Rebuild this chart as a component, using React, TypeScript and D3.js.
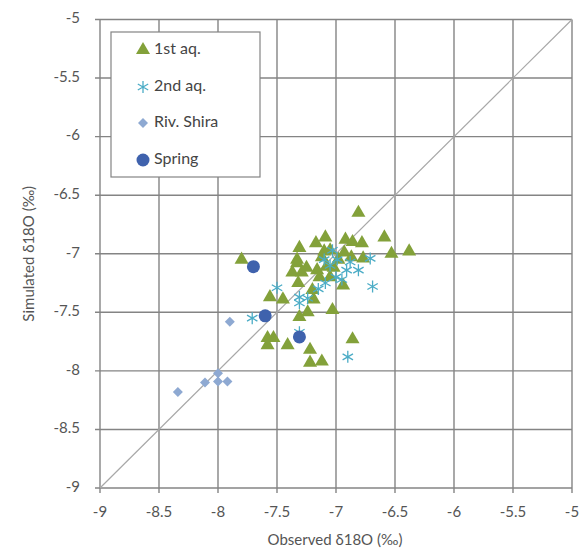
import { useEffect, useRef } from "react"
import * as d3 from "d3"

type Pt = [number, number]

// observed, simulated δ18O (‰)
const firstAq: Pt[] = [
  [-6.81, -6.65], [-7.8, -7.05], [-7.31, -6.95], [-7.17, -6.91], [-7.09, -6.86],
  [-6.92, -6.88], [-6.86, -6.9], [-6.78, -6.91], [-7.33, -7.05], [-7.25, -7.12],
  [-7.37, -7.16], [-7.32, -7.25], [-7.12, -7.03], [-7.08, -7.11], [-7.14, -7.2],
  [-7.05, -7.2], [-7.2, -7.31], [-7.19, -7.39], [-7.56, -7.37], [-7.45, -7.39],
  [-7.03, -7.48], [-7.24, -7.5], [-7.31, -7.54], [-6.59, -6.86], [-6.53, -7.0],
  [-6.38, -6.98], [-6.77, -7.04], [-6.94, -7.27], [-7.58, -7.72], [-7.53, -7.72],
  [-7.58, -7.78], [-7.41, -7.78], [-7.22, -7.82], [-7.22, -7.93], [-7.12, -7.92],
  [-6.86, -7.73], [-7.33, -7.08], [-7.29, -7.16], [-7.16, -7.14], [-7.05, -6.97],
  [-6.98, -7.05], [-7.02, -7.12], [-7.1, -6.98], [-6.93, -6.99], [-6.87, -7.03],
]

const secondAq: Pt[] = [
  [-7.03, -6.97], [-6.99, -7.05], [-6.88, -7.07], [-6.91, -7.14], [-6.81, -7.14],
  [-6.71, -7.04], [-6.69, -7.28], [-7.09, -7.25], [-7.31, -7.42], [-7.5, -7.29],
  [-7.71, -7.55], [-7.31, -7.67], [-7.31, -7.37], [-7.24, -7.38], [-6.9, -7.88],
  [-7.05, -7.1], [-7.0, -7.2], [-7.1, -7.05], [-6.95, -7.22], [-7.15, -7.3],
]

const rivShira: Pt[] = [
  [-7.9, -7.58], [-8.34, -8.18], [-8.11, -8.1], [-8.0, -8.02], [-8.0, -8.09], [-7.92, -8.09],
]

const spring: Pt[] = [
  [-7.7, -7.11], [-7.6, -7.53], [-7.31, -7.71],
]

const ticks = [-9, -8.5, -8, -7.5, -7, -6.5, -6, -5.5, -5]
const legendNames = ["1st aq.", "2nd aq.", "Riv. Shira", "Spring"]

const GREEN = "#83a13a"
const AQUA = "#4bacc6"
const STEEL = "#8ea9d2"
const NAVY = "#3f62ad"
const GRID = "#848484"
const FONT = "Lato, 'Open Sans', sans-serif"

export default function App() {
  const ref = useRef<SVGSVGElement>(null)

  useEffect(() => {
    const svg = d3.select(ref.current!)
    svg.selectAll("*").remove()

    const x = d3.scaleLinear().domain([-9, -5]).range([100, 572])
    const y = d3.scaleLinear().domain([-9, -5]).range([488, 19.5])

    const g = svg.append("g")

    // grid
    g.selectAll("line.vx").data(ticks).join("line")
      .attr("x1", (d) => x(d)).attr("x2", (d) => x(d))
      .attr("y1", y(-5)).attr("y2", y(-9) + 5)
      .attr("stroke", GRID).attr("stroke-width", 1.4)
    g.selectAll("line.hy").data(ticks).join("line")
      .attr("y1", (d) => y(d)).attr("y2", (d) => y(d))
      .attr("x1", x(-9) - 5).attr("x2", x(-5))
      .attr("stroke", GRID).attr("stroke-width", 1.4)

    // 1:1 line
    g.append("line")
      .attr("x1", x(-9)).attr("y1", y(-9)).attr("x2", x(-5)).attr("y2", y(-5))
      .attr("stroke", "#a8a8a8").attr("stroke-width", 1.2)

    // tick labels
    g.selectAll("text.xt").data(ticks).join("text")
      .attr("x", (d) => x(d)).attr("y", 513)
      .attr("text-anchor", "middle").attr("dominant-baseline", "middle")
      .attr("font-family", FONT).attr("font-size", 15).attr("fill", "#555")
      .text((d) => String(d))
    g.selectAll("text.yt").data(ticks).join("text")
      .attr("x", 80).attr("y", (d) => y(d))
      .attr("text-anchor", "end").attr("dominant-baseline", "middle")
      .attr("font-family", FONT).attr("font-size", 15).attr("fill", "#555")
      .text((d) => String(d))

    // axis titles
    g.append("text").attr("x", 335).attr("y", 541)
      .attr("text-anchor", "middle").attr("dominant-baseline", "middle")
      .attr("font-family", FONT).attr("font-size", 15).attr("fill", "#555")
      .text("Observed δ18O (‰)")
    g.append("text").attr("transform", `translate(30,${(y(-5) + y(-9)) / 2}) rotate(-90)`)
      .attr("text-anchor", "middle").attr("dominant-baseline", "middle")
      .attr("font-family", FONT).attr("font-size", 15).attr("fill", "#555")
      .text("Simulated δ18O (‰)")

    const tri = d3.symbol(d3.symbolTriangle, 85)
    const dia = (s: number) => `M0,${-s}L${s},0L0,${s}L${-s},0Z`
    const star = (s: number) => {
      const a = s * 0.866
      return `M${-a},${-s / 2}L${a},${s / 2}M${-a},${s / 2}L${a},${-s / 2}M0,${-s}L0,${s}`
    }

    const drawTri = (sel: d3.Selection<SVGGElement, unknown, null, undefined>, data: Pt[]) =>
      sel.selectAll("path.t").data(data).join("path")
        .attr("d", tri()!).attr("transform", (d) => `translate(${x(d[0])},${y(d[1])})`)
        .attr("fill", GREEN)
    const drawStar = (sel: d3.Selection<SVGGElement, unknown, null, undefined>, data: Pt[]) =>
      sel.selectAll("path.s").data(data).join("path")
        .attr("d", star(6)).attr("transform", (d) => `translate(${x(d[0])},${y(d[1])})`)
        .attr("fill", "none").attr("stroke", AQUA).attr("stroke-width", 1.3)
    const drawDia = (sel: d3.Selection<SVGGElement, unknown, null, undefined>, data: Pt[]) =>
      sel.selectAll("path.d").data(data).join("path")
        .attr("d", dia(5)).attr("transform", (d) => `translate(${x(d[0])},${y(d[1])})`)
        .attr("fill", STEEL)
    const drawDot = (sel: d3.Selection<SVGGElement, unknown, null, undefined>, data: Pt[]) =>
      sel.selectAll("circle").data(data).join("circle")
        .attr("cx", (d) => x(d[0])).attr("cy", (d) => y(d[1])).attr("r", 6.5)
        .attr("fill", NAVY)

    drawTri(g.append("g"), firstAq)
    drawStar(g.append("g"), secondAq)
    drawDia(g.append("g"), rivShira)
    drawDot(g.append("g"), spring)

    // legend
    const lg = g.append("g")
    lg.append("rect").attr("x", 111).attr("y", 32).attr("width", 149).attr("height", 145)
      .attr("fill", "#fff").attr("stroke", GRID).attr("stroke-width", 1.2)
    const rows = [50, 87, 123, 160]
    legendNames.forEach((name, i) => {
      const ry = rows[i]
      const mg = lg.append("g")
      const pt: Pt[] = [[x.invert(143), y.invert(ry)]]
      if (i === 0) drawTri(mg, pt)
      if (i === 1) drawStar(mg, pt)
      if (i === 2) drawDia(mg, pt)
      if (i === 3) drawDot(mg, pt)
      lg.append("text").attr("x", 154).attr("y", ry)
        .attr("dominant-baseline", "middle")
        .attr("font-family", FONT).attr("font-size", 16).attr("fill", "#444")
        .text(name)
    })
  }, [])

  return (
    <svg ref={ref} width={583} height={555}
      style={{ position: "absolute", left: 0, top: 0, background: "#fff" }} />
  )
}
